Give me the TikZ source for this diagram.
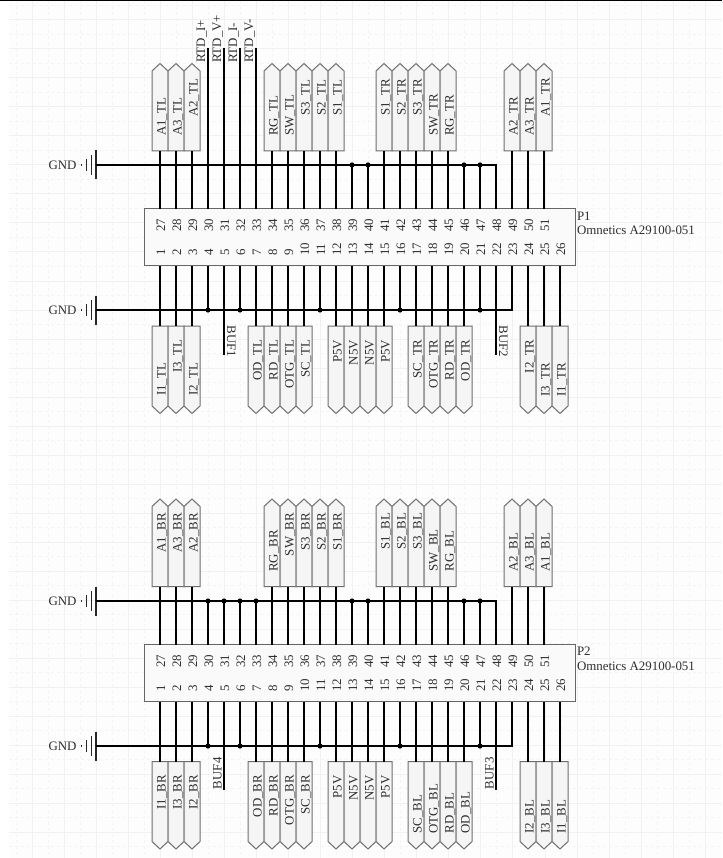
\documentclass[tikz,border=0pt]{standalone}
\usepackage{fontspec}
\setmainfont{Liberation Serif}
\usetikzlibrary{shapes.symbols}
\definecolor{gridsolid}{HTML}{F1F1F1}
\definecolor{griddash}{HTML}{F4F4F4}
\definecolor{sheet}{HTML}{FDFDFD}
\definecolor{portfill}{HTML}{F5F5F5}
\definecolor{portline}{HTML}{6E6E6E}
\definecolor{boxfill}{HTML}{FAFAFA}
\definecolor{txt}{HTML}{2E2E2E}
\tikzset{
  wire/.style={draw=black,line width=1.35pt},
  portshape/.style={shape=signal,signal pointer angle=94,draw=portline,fill=portfill,line width=1pt,
    minimum width=16pt,minimum height=80pt,inner sep=0pt,outer sep=0pt},
  conbox/.style={draw=black!60,fill=boxfill,line width=1pt,minimum width=431pt,minimum height=57pt,inner sep=0pt,outer sep=0pt},
  junction/.style={circle,fill=black,minimum size=5.2pt,inner sep=0pt,outer sep=0pt},
  lbl/.style={text=txt,font=\fontsize{12.9}{14}\selectfont,inner sep=0pt,outer sep=0pt},
  vlbl/.style={lbl,rotate=90},
  gbar/.style={draw=black!85,line width=1.3pt},
}
\newcommand{\upports}[3]{%
  \foreach \pos/\tx/\an/\ya in {#3}{%
    \pgfmathsetmacro{\xx}{144+16*\pos}
    \pgfmathtruncatemacro{\pin}{26+\pos}
    \pgfmathsetmacro{\yb}{151+#2}
    \pgfmathsetmacro{\xb}{\xx+5.5}
    \node[portshape,signal to=north,anchor=south] (#1-port\pin) at (\xx,\yb) {};
    \draw[wire] (#1-t\pin) -- (#1-port\pin.south);
    \node[vlbl,anchor=base \an] (#1-lab\pin) at (\xb,\ya) {\tx};
  }}
\newcommand{\lowports}[3]{%
  \foreach \pos/\tx/\an/\ya in {#3}{%
    \pgfmathsetmacro{\xx}{144+16*\pos}
    \pgfmathtruncatemacro{\pin}{\pos}
    \pgfmathsetmacro{\yb}{326+#2}
    \pgfmathsetmacro{\xb}{\xx+5.5}
    \node[portshape,signal to=south,anchor=north] (#1-port\pin) at (\xx,\yb) {};
    \draw[wire] (#1-b\pin) -- (#1-port\pin.north);
    \node[vlbl,anchor=base \an] (#1-lab\pin) at (\xb,\ya) {\tx};
  }}
\newcommand{\connector}[3]{%
  \pgfmathsetmacro{\cy}{237.5+#2}
  \node[conbox] (#1) at (360.25,\cy) {};
  \foreach \pos in {1,...,26}{%
    \pgfmathsetmacro{\xx}{144+16*\pos}
    \pgfmathsetmacro{\ytop}{209+#2}
    \pgfmathsetmacro{\ybot}{266+#2}
    \pgfmathsetmacro{\ynt}{232+#2}
    \pgfmathsetmacro{\ynb}{256+#2}
    \pgfmathsetmacro{\xn}{\xx+5}
    \pgfmathtruncatemacro{\up}{26+\pos}
    \coordinate (#1-b\pos) at (\xx,\ybot);
    \node[vlbl,anchor=base west] (#1-nb\pos) at (\xn,\ynb) {\pos};
    \ifnum\pos<26
      \coordinate (#1-t\up) at (\xx,\ytop);
      \node[vlbl,anchor=base west] (#1-nt\up) at (\xn,\ynt) {\up};
    \fi
  }
  \pgfmathsetmacro{\ya}{216+#2}
  \pgfmathsetmacro{\yc}{230.7+#2}
  \node[lbl,anchor=west] (#1-ref) at (577,\ya) {#1};
  \node[lbl,anchor=west] (#1-val) at (577,\yc) {#3};
}
\newcommand{\gndsym}[2]{%
  \node[lbl,anchor=east] (#1-label) at (76.5,#2) {GND};
  \coordinate (#1) at (96,#2);
  \fill[black!80] (81,#2) ++(0,-1) rectangle ++(1.4,2);
  \draw[gbar] (86.7,#2) ++(0,-6) -- ++(0,12);
  \draw[gbar] (91.2,#2) ++(0,-10) -- ++(0,20);
  \draw[gbar] (#1) ++(0,-14.5) -- ++(0,29);
}
\begin{document}
\begin{tikzpicture}[x=1pt,y=-1pt]
\useasboundingbox (0,0) rectangle (722,858);
\fill[white] (0,0) rectangle (722,858);
\fill[sheet] (9,0) rectangle (722,858);
\foreach \k in {1,...,22}{\draw[griddash,line width=1pt,dash pattern=on 3pt off 3pt] ({32.06*\k-16},0) -- ({32.06*\k-16},858);}
\foreach \k in {0,...,29}{\draw[griddash,line width=1pt,dash pattern=on 3pt off 3pt] (9,{5.5+29*\k}) -- (722,{5.5+29*\k});}
\foreach \k in {1,...,22}{\draw[gridsolid,line width=1pt] ({32.06*\k},0) -- ({32.06*\k},858);}
\foreach \k in {0,...,29}{\draw[gridsolid,line width=1pt] (9,{20+29*\k}) -- (722,{20+29*\k});}
\fill[black] (0,0) rectangle (722,1.2);

% ---------- P1 ----------
\connector{P1}{0}{Omnetics A29100-051}
\upports{P1}{0}{1/A1\_TL/west/136,2/A3\_TL/west/136,3/A2\_TL/west/117,
 8/RG\_TL/west/136,9/SW\_TL/west/136,10/S3\_TL/west/115.5,11/S2\_TL/west/115.5,12/S1\_TL/west/115.5,
 15/S1\_TR/west/115.5,16/S2\_TR/west/115.5,17/S3\_TR/west/115.5,18/SW\_TR/west/136,19/RG\_TR/west/136,
 23/A2\_TR/west/136,24/A3\_TR/west/136,25/A1\_TR/west/116.5}
\lowports{P1}{0}{1/I1\_TL/east/363,2/I3\_TL/east/340,3/I2\_TL/east/363,
 7/OD\_TL/east/340,8/RD\_TL/east/340,9/OTG\_TL/east/340,10/SC\_TL/east/340,
 12/P5V/east/340,13/N5V/east/340,14/N5V/east/340,15/P5V/east/340,
 17/SC\_TR/east/339.5,18/OTG\_TR/east/339.5,19/RD\_TR/east/339.5,20/OD\_TR/east/339.5,
 24/I2\_TR/east/339.5,25/I3\_TR/east/363,26/I1\_TR/east/363}
\foreach \pin/\xx/\tx in {30/208/RTD\_I+,31/224/RTD\_V+,32/240/RTD\_I-,33/256/RTD\_V-}{
  \coordinate (P1-end\pin) at (\xx,48);
  \draw[wire] (P1-t\pin) -- (P1-end\pin);
  \node[vlbl,anchor=base west] (P1-lab\pin) at (\xx-2.8,63) {\tx};
}
\gndsym{P1-gu}{165}
\foreach \pin/\xx in {39/352,40/368,46/464,47/480}{
  \node[junction] (P1-j\pin) at (\xx,165) {};
  \draw[wire] (P1-t\pin) -- (P1-j\pin.center);
}
\draw[wire] (P1-gu) -- (P1-j39.center) -- (P1-j40.center) -- (P1-j46.center) -- (P1-j47.center) -| (P1-t48);
\gndsym{P1-gl}{310}
\foreach \pin/\xx in {4/208,6/240,11/320,16/400,21/480}{
  \node[junction] (P1-j\pin) at (\xx,310) {};
  \draw[wire] (P1-b\pin) -- (P1-j\pin.center);
}
\draw[wire] (P1-gl) -- (P1-j4.center) -- (P1-j6.center) -- (P1-j11.center) -- (P1-j16.center) -- (P1-j21.center) -| (P1-b23);
\coordinate (P1-buf1) at (224,355);
\coordinate (P1-buf2) at (496,355);
\draw[wire] (P1-b5) -- (P1-buf1);
\draw[wire] (P1-b22) -- (P1-buf2);
\node[lbl,rotate=-90,anchor=base west] (P1-buf1l) at (227,325.5) {BUF1};
\node[lbl,rotate=-90,anchor=base west] (P1-buf2l) at (499,325.5) {BUF2};

% ---------- P2 ----------
\connector{P2}{435.5}{Omnetics A29100-051}
\upports{P2}{435.5}{1/A1\_BR/west/552.5,2/A3\_BR/west/552.5,3/A2\_BR/west/552.5,
 8/RG\_BR/west/571.7,9/SW\_BR/east/513,10/S3\_BR/east/513,11/S2\_BR/east/513,12/S1\_BR/east/513,
 15/S1\_BL/east/513,16/S2\_BL/east/513,17/S3\_BL/east/513,18/SW\_BL/west/571.5,19/RG\_BL/west/571.5,
 23/A2\_BL/west/571.5,24/A3\_BL/west/571.5,25/A1\_BL/west/571.5}
\lowports{P2}{435.5}{1/I1\_BR/east/775,2/I3\_BR/east/775,3/I2\_BR/east/775,
 7/OD\_BR/east/775,8/RD\_BR/east/775,9/OTG\_BR/east/775,10/SC\_BR/east/775,
 12/P5V/east/775.5,13/N5V/east/775.5,14/N5V/east/775.5,15/P5V/east/775.5,
 17/SC\_BL/west/833.5,18/OTG\_BL/west/833.5,19/RD\_BL/west/833.5,20/OD\_BL/west/833.5,
 24/I2\_BL/west/833.5,25/I3\_BL/west/833.5,26/I1\_BL/west/833.5}
\gndsym{P2-gu}{601}
\foreach \pin/\xx in {30/208,31/224,32/240,33/256,39/352,40/368,46/464,47/480}{
  \node[junction] (P2-j\pin) at (\xx,601) {};
  \draw[wire] (P2-t\pin) -- (P2-j\pin.center);
}
\draw[wire] (P2-gu) -- (P2-j30.center) -- (P2-j33.center) -- (P2-j39.center) -- (P2-j47.center) -| (P2-t48);
\gndsym{P2-gl}{746}
\foreach \pin/\xx in {4/208,6/240,11/320,16/400,21/480}{
  \node[junction] (P2-j\pin) at (\xx,746) {};
  \draw[wire] (P2-b\pin) -- (P2-j\pin.center);
}
\draw[wire] (P2-gl) -- (P2-j4.center) -- (P2-j21.center) -| (P2-b23);
\coordinate (P2-buf4) at (224,789.5);
\coordinate (P2-buf3) at (496,789.5);
\draw[wire] (P2-b5) -- (P2-buf4);
\draw[wire] (P2-b22) -- (P2-buf3);
\node[vlbl,anchor=base west] (P2-buf4l) at (221.5,789) {BUF4};
\node[vlbl,anchor=base west] (P2-buf3l) at (493.7,789) {BUF3};
\end{tikzpicture}
\end{document}
